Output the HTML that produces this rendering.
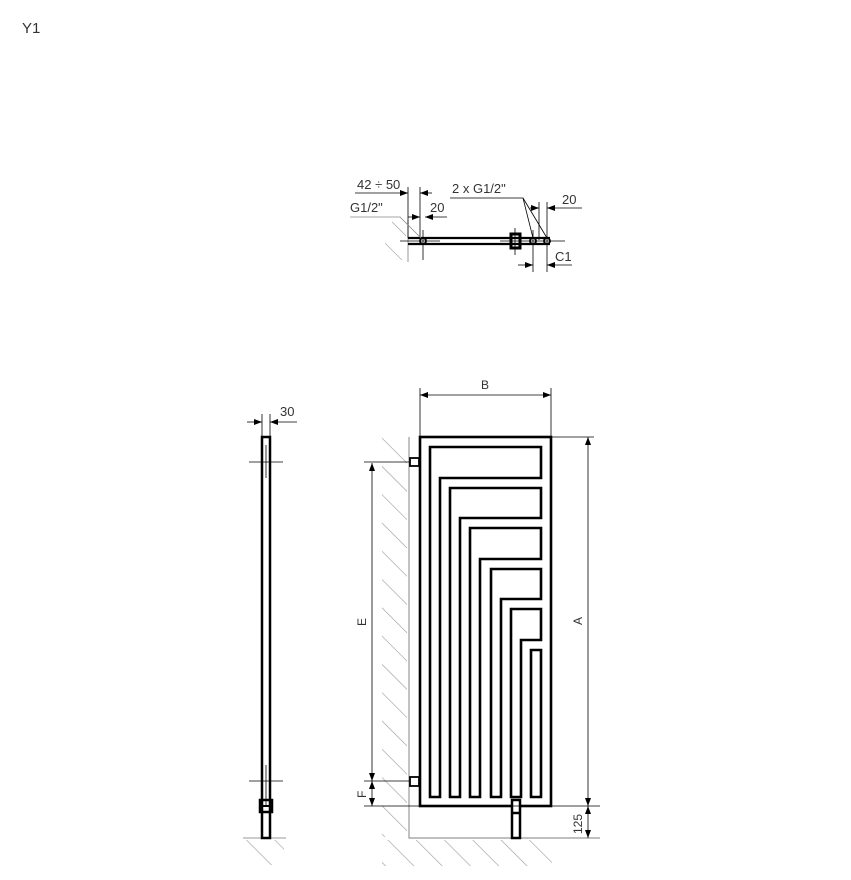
<!DOCTYPE html>
<html><head><meta charset="utf-8"><style>
html,body{margin:0;padding:0;background:#fff;}
svg{display:block;}
text{font-family:"Liberation Sans",sans-serif;fill:#333;}
</style></head><body>
<svg width="851" height="880" viewBox="0 0 851 880" xmlns="http://www.w3.org/2000/svg">
<defs>
<pattern id="h" width="20" height="20" patternUnits="userSpaceOnUse" patternTransform="rotate(-45)">
<line x1="0" y1="0" x2="0" y2="20" stroke="#999" stroke-width="1.2"/>
</pattern>
<marker id="a" markerWidth="8" markerHeight="6" refX="8" refY="3" orient="auto-start-reverse" markerUnits="userSpaceOnUse">
<path d="M0,0 L8,3 L0,6 Z" fill="#000"/></marker>
</defs>
<text x="22" y="33" font-size="15">Y1</text>

<!-- TOP VIEW -->
<rect x="385" y="222" width="21" height="38" fill="url(#h)"/>
<line x1="408" y1="220" x2="408" y2="262" stroke="#999"/>
<line x1="408" y1="238" x2="550" y2="238" stroke="#000" stroke-width="2.2"/>
<line x1="408" y1="244" x2="550" y2="244" stroke="#000" stroke-width="2.2"/>
<line x1="400" y1="241" x2="440" y2="241" stroke="#000" stroke-width="0.8"/>
<line x1="500" y1="241" x2="565" y2="241" stroke="#000" stroke-width="0.8"/>
<circle cx="423" cy="241" r="3" fill="none" stroke="#000" stroke-width="1.8"/>
<circle cx="533" cy="241" r="3" fill="none" stroke="#000" stroke-width="1.8"/>
<circle cx="547" cy="241" r="3" fill="none" stroke="#000" stroke-width="1.8"/>
<rect x="511" y="234" width="9" height="14" fill="none" stroke="#000" stroke-width="3"/>
<line x1="423" y1="230" x2="423" y2="260" stroke="#000" stroke-width="0.8"/>
<line x1="533" y1="230" x2="533" y2="272" stroke="#000" stroke-width="0.8"/>
<line x1="547" y1="202" x2="547" y2="272" stroke="#000" stroke-width="0.8"/>
<line x1="539" y1="202" x2="539" y2="240" stroke="#000" stroke-width="0.8"/>
<line x1="515" y1="228" x2="515" y2="255" stroke="#000" stroke-width="0.8"/>
<line x1="408" y1="187" x2="408" y2="238" stroke="#000" stroke-width="0.8"/>
<line x1="420" y1="187" x2="420" y2="238" stroke="#000" stroke-width="0.8"/>
<line x1="355" y1="193" x2="408" y2="193" stroke="#000" stroke-width="0.8" marker-end="url(#a)"/>
<line x1="432" y1="193" x2="420" y2="193" stroke="#000" stroke-width="0.8" marker-end="url(#a)"/>
<text x="357" y="189" font-size="13">42 ÷ 50</text>
<line x1="408" y1="217" x2="420" y2="217" stroke="#000" stroke-width="0.8" marker-end="url(#a)"/>
<line x1="447" y1="217" x2="425" y2="217" stroke="#000" stroke-width="0.8" marker-end="url(#a)"/>
<text x="430" y="212" font-size="13">20</text>
<polyline points="350,217 400,217 421,238" fill="none" stroke="#888" stroke-width="0.8"/>
<text x="350" y="212" font-size="13">G1/2"</text>
<polyline points="450,198 523,198 533,238" fill="none" stroke="#000" stroke-width="0.8"/>
<line x1="523" y1="198" x2="547" y2="238" stroke="#000" stroke-width="0.8"/>
<text x="452" y="193" font-size="13">2 x G1/2"</text>
<line x1="530" y1="208" x2="539" y2="208" stroke="#000" stroke-width="0.8" marker-end="url(#a)"/>
<line x1="582" y1="208" x2="547" y2="208" stroke="#000" stroke-width="0.8" marker-end="url(#a)"/>
<text x="562" y="204" font-size="13">20</text>
<line x1="518" y1="265" x2="533" y2="265" stroke="#000" stroke-width="0.8" marker-end="url(#a)"/>
<line x1="572" y1="265" x2="547" y2="265" stroke="#000" stroke-width="0.8" marker-end="url(#a)"/>
<text x="555" y="261" font-size="13">C1</text>

<!-- SIDE VIEW -->
<rect x="244" y="840" width="40" height="25" fill="url(#h)"/>
<line x1="243" y1="838" x2="286" y2="838" stroke="#999"/>
<rect x="262" y="437" width="8" height="401" fill="none" stroke="#000" stroke-width="2.5"/>
<line x1="266" y1="445" x2="266" y2="478" stroke="#000" stroke-width="0.8"/>
<line x1="266" y1="765" x2="266" y2="805" stroke="#000" stroke-width="0.8"/>
<line x1="249" y1="462" x2="283" y2="462" stroke="#000" stroke-width="0.8"/>
<line x1="249" y1="781" x2="283" y2="781" stroke="#000" stroke-width="0.8"/>
<rect x="260" y="800" width="12" height="12" fill="none" stroke="#000" stroke-width="2.5"/>
<line x1="262" y1="806" x2="270" y2="806" stroke="#000" stroke-width="2"/>
<line x1="262" y1="414" x2="262" y2="437" stroke="#000" stroke-width="0.8"/>
<line x1="270" y1="414" x2="270" y2="437" stroke="#000" stroke-width="0.8"/>
<line x1="247" y1="422" x2="262" y2="422" stroke="#000" stroke-width="0.8" marker-end="url(#a)"/>
<line x1="297" y1="422" x2="270" y2="422" stroke="#000" stroke-width="0.8" marker-end="url(#a)"/>
<text x="280" y="416" font-size="13">30</text>

<!-- FRONT VIEW -->
<rect x="382" y="437" width="25" height="400" fill="url(#h)"/>
<rect x="382" y="840" width="170" height="26" fill="url(#h)"/>
<polyline points="409,437 409,838 600,838" fill="none" stroke="#999" stroke-width="1.2"/>
<rect x="420" y="437" width="131" height="369" fill="#fff" stroke="#000" stroke-width="2.6"/>
<g fill="none" stroke="#000" stroke-width="2.6">
<path d="M430,797 V447 H541 V478 H440 V797 Z"/>
<path d="M450,797 V488 H541 V518 H460 V797 Z"/>
<path d="M470,797 V528 H541 V559 H480 V797 Z"/>
<path d="M491,797 V569 H541 V599 H501 V797 Z"/>
<path d="M511,797 V609 H541 V640 H521 V797 Z"/>
<path d="M531,797 V650 H541 V797 Z"/>
</g>
<rect x="410" y="458" width="9" height="8" fill="#fff" stroke="#000" stroke-width="1.8"/>
<rect x="410" y="777" width="9" height="9" fill="#fff" stroke="#000" stroke-width="1.8"/>
<rect x="512" y="800" width="8" height="38" fill="#fff" stroke="#000" stroke-width="2.5"/>
<line x1="512" y1="813" x2="520" y2="813" stroke="#000" stroke-width="2.5"/>
<!-- B -->
<line x1="420" y1="388" x2="420" y2="437" stroke="#000" stroke-width="0.8"/>
<line x1="551" y1="388" x2="551" y2="437" stroke="#000" stroke-width="0.8"/>
<line x1="486" y1="395" x2="420" y2="395" stroke="#000" stroke-width="0.8" marker-end="url(#a)"/>
<line x1="486" y1="395" x2="551" y2="395" stroke="#000" stroke-width="0.8" marker-end="url(#a)"/>
<text x="481" y="389" font-size="12">B</text>
<!-- A -->
<line x1="551" y1="437" x2="594" y2="437" stroke="#000" stroke-width="0.8"/>
<line x1="364" y1="806" x2="600" y2="806" stroke="#000" stroke-width="0.8"/>
<line x1="588" y1="620" x2="588" y2="437" stroke="#000" stroke-width="0.8" marker-end="url(#a)"/>
<line x1="588" y1="620" x2="588" y2="806" stroke="#000" stroke-width="0.8" marker-end="url(#a)"/>
<text transform="translate(582,625) rotate(-90)" font-size="12">A</text>
<!-- 125 -->
<line x1="588" y1="822" x2="588" y2="806" stroke="#000" stroke-width="0.8" marker-end="url(#a)"/>
<line x1="588" y1="822" x2="588" y2="838" stroke="#000" stroke-width="0.8" marker-end="url(#a)"/>
<text transform="translate(582,834) rotate(-90)" font-size="12">125</text>
<!-- E / F -->
<line x1="364" y1="462" x2="409" y2="462" stroke="#000" stroke-width="0.8"/>
<line x1="364" y1="781" x2="409" y2="781" stroke="#000" stroke-width="0.8"/>
<line x1="372" y1="620" x2="372" y2="463" stroke="#000" stroke-width="0.8" marker-end="url(#a)"/>
<line x1="372" y1="620" x2="372" y2="781" stroke="#000" stroke-width="0.8" marker-end="url(#a)"/>
<text transform="translate(366,626) rotate(-90)" font-size="12">E</text>
<line x1="372" y1="793" x2="372" y2="781" stroke="#000" stroke-width="0.8" marker-end="url(#a)"/>
<line x1="372" y1="793" x2="372" y2="806" stroke="#000" stroke-width="0.8" marker-end="url(#a)"/>
<text transform="translate(366,798) rotate(-90)" font-size="12">F</text>
</svg>
</body></html>
